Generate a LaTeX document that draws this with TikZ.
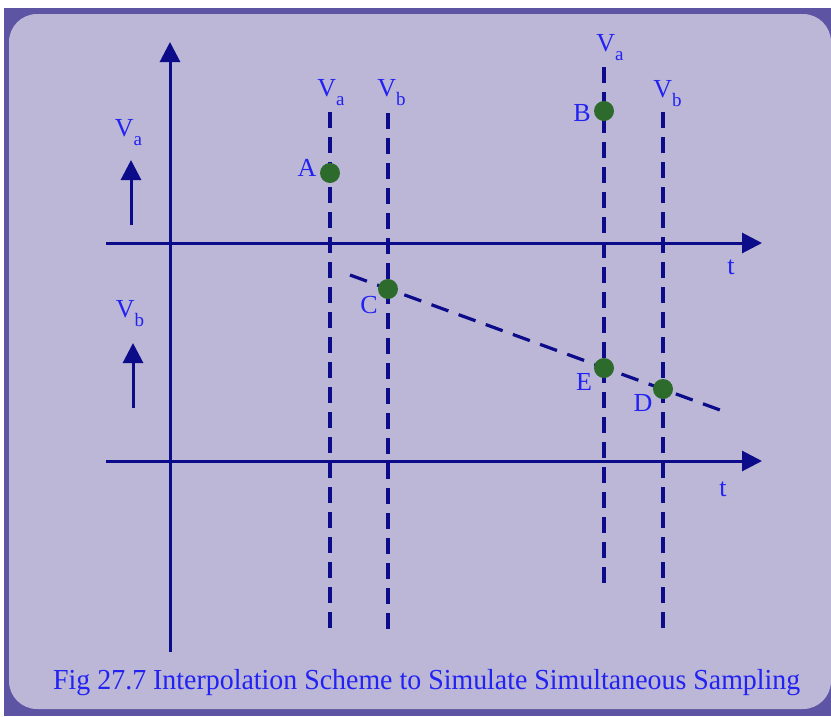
\documentclass[tikz,border=0pt]{standalone}
\usepackage{fontspec}
\setmainfont{Liberation Serif}
\usepackage{graphicx}
\usetikzlibrary{positioning, arrows.meta}
\definecolor{panelbg}{HTML}{BCB7D7}
\definecolor{panelframe}{HTML}{5E54A4}
\definecolor{axisnavy}{HTML}{0C0C8A}
\definecolor{sampgreen}{HTML}{2D6B2D}
\definecolor{labelblue}{HTML}{2222F2}
\newcommand{\volt}[1]{V\raisebox{-9pt}{\fontsize{19}{20}\selectfont #1}}

\begin{document}
\begin{tikzpicture}[x=1pt, y=-1pt,
    axis/.style={draw=axisnavy, line width=3pt, -{Triangle[length=20pt, width=20pt]}},
    sampline/.style={draw=axisnavy, line width=3.2pt, dash pattern=on 16pt off 9pt},
    dot/.style={circle, fill=sampgreen, minimum size=20pt, inner sep=0pt},
    lbl/.style={text=labelblue, font=\fontsize{26}{28}\selectfont, inner sep=0pt}]

  % panel
  \fill[white] (0,0) rectangle (831,716);
  \fill[panelframe] (4,8) rectangle (831,716);
  \fill[panelbg, rounded corners=28pt] (9,14) rectangle (831,709);
  \useasboundingbox (0,0) rectangle (831,716);

  % axes
  \coordinate (vaxbot) at (170,652);
  \coordinate (vaxtop) at (170,42);
  \coordinate (taxa0) at (106,243);
  \coordinate (taxa1) at (762,243);
  \coordinate (taxb0) at (106,461);
  \coordinate (taxb1) at (762,461);
  \draw[axis] (vaxbot) -- (vaxtop);
  \draw[axis] (taxa0) -- (taxa1);
  \draw[axis] (taxb0) -- (taxb1);
  \node[lbl] (ta) at (731,267) {t};
  \node[lbl] (tb) at (723,489) {t};

  % signal direction arrows
  \coordinate (vaarr0) at (131,225);
  \coordinate (vaarr1) at (131,160);
  \coordinate (vbarr0) at (133,408);
  \coordinate (vbarr1) at (133,343);
  \draw[axis] (vaarr0) -- (vaarr1);
  \draw[axis] (vbarr0) -- (vbarr1);
  \node[lbl] (lva) at (128.5,133) {\volt{a}};
  \node[lbl] (lvb) at (130,314) {\volt{b}};

  % sampling instants
  \coordinate (va1top) at (330,112);
  \coordinate (va1bot) at (330,635);
  \coordinate (vb1top) at (388,113);
  \coordinate (vb1bot) at (388,635);
  \coordinate (va2top) at (604,67);
  \coordinate (va2bot) at (604,588);
  \coordinate (vb2top) at (663,112);
  \coordinate (vb2bot) at (663,635);
  \draw[sampline] (va1top) -- (va1bot);
  \draw[sampline] (vb1top) -- (vb1bot);
  \draw[sampline] (va2top) -- (va2bot);
  \draw[sampline] (vb2top) -- (vb2bot);
  \node[lbl] (lva1) at (331,93) {\volt{a}};
  \node[lbl] (lvb1) at (391.5,93) {\volt{b}};
  \node[lbl] (lva2) at (610,48) {\volt{a}};
  \node[lbl] (lvb2) at (667.5,94) {\volt{b}};

  % interpolation line
  \coordinate (interp0) at (350,275);
  \coordinate (interp1) at (720,410);
  \draw[sampline, dash pattern=on 18pt off 10.9pt] (interp0) -- (interp1);

  % samples
  \node[dot] (A) at (330,173) {};
  \node[dot] (B) at (604,111) {};
  \node[dot] (C) at (388,289) {};
  \node[dot] (E) at (604,368) {};
  \node[dot] (D) at (663,389) {};
  \node[lbl] (labA) at (307,168) {A};
  \node[lbl] (labB) at (582,113) {B};
  \node[lbl] (labC) at (369,305) {C};
  \node[lbl] (labE) at (584,382) {E};
  \node[lbl] (labD) at (643,403) {D};

  \node[anchor=base west, text=labelblue, inner sep=0pt] (caption) at (53,689)
    {\resizebox{747pt}{\height}{\fontsize{29}{32}\selectfont Fig 27.7 Interpolation Scheme to Simulate Simultaneous Sampling}};
\end{tikzpicture}
\end{document}
